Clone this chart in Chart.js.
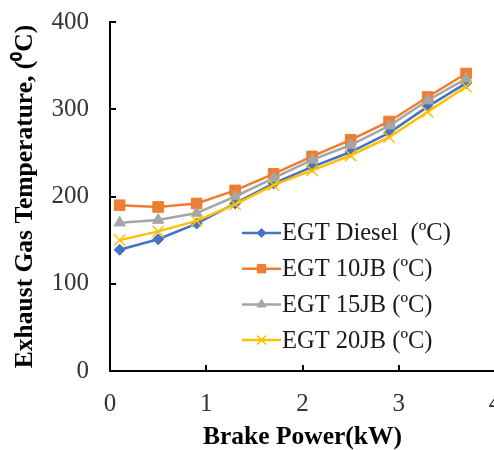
<!DOCTYPE html>
<html>
<head>
<meta charset="utf-8">
<script src="https://cdn.jsdelivr.net/npm/chart.js@4.4.0/dist/chart.umd.min.js"></script>
<style>
  html, body { margin: 0; padding: 0; overflow: hidden; background: #fff; }
  #wrap { width: 505px; height: 450px; }
</style>
</head>
<body>
<div id="wrap"><canvas id="egtChart" width="505" height="450"></canvas></div>
<script>
// brake power (kW) and exhaust gas temperature (ºC) for each fuel
const brakePower = [0.1, 0.5, 0.9, 1.3, 1.7, 2.1, 2.5, 2.9, 3.3, 3.7];
const egtDiesel = [139, 151, 169, 192, 215, 234, 251, 273, 303, 330];
const egt10JB   = [190, 188, 192, 207, 226, 246, 265, 286, 314, 341];
const egt15JB   = [170, 173, 181, 200, 221, 242, 259, 281, 310, 335];
const egt20JB   = [150, 160, 172, 191, 213, 230, 247, 268, 297, 326];

const seriesLabels = ['EGT Diesel  (\u00BAC)', 'EGT 10JB (\u00BAC)', 'EGT 15JB (\u00BAC)', 'EGT 20JB (\u00BAC)'];
const xTicks = [0, 1, 2, 3, 4];
const yTicks = [0, 100, 200, 300, 400];

const serif = "'Liberation Serif', 'Times New Roman', serif";

function toPoints(values) {
    return values.map((v, i) => ({ x: brakePower[i], y: v }));
}

function makeSet(label, values, color, style, radius, order) {
    return {
        label: label,
        data: toPoints(values),
        borderColor: color,
        backgroundColor: color,
        pointBackgroundColor: color,
        pointBorderColor: color,
        pointStyle: style,
        pointRadius: radius,
        pointBorderWidth: style === 'crossRot' ? 1.5 : 1,
        borderWidth: 2.5,
        tension: 0,
        fill: false,
        order: order
    };
}

const datasets = [
    makeSet(seriesLabels[0], egtDiesel, '#4472C4', 'rectRot', 5.5, 3),
    makeSet(seriesLabels[1], egt10JB, '#ED7D31', 'rect', 7.5, 2),
    makeSet(seriesLabels[2], egt15JB, '#A5A5A5', 'triangle', 6.5, 1),
    makeSet(seriesLabels[3], egt20JB, '#FFC000', 'crossRot', 8, 0)
];

// short tick marks pointing into the plot, like the spreadsheet axes
const innerTicks = {
    id: 'innerTicks',
    afterDraw(chart) {
        const { ctx, chartArea, scales } = chart;
        ctx.save();
        ctx.strokeStyle = '#000';
        ctx.lineWidth = 2;
        scales.y.ticks.forEach(t => {
            const py = Math.round(scales.y.getPixelForValue(t.value));
            ctx.beginPath();
            ctx.moveTo(chartArea.left, py);
            ctx.lineTo(chartArea.left + 6, py);
            ctx.stroke();
        });
        scales.x.ticks.forEach(t => {
            const px = Math.round(scales.x.getPixelForValue(t.value));
            ctx.beginPath();
            ctx.moveTo(px, chartArea.bottom);
            ctx.lineTo(px, chartArea.bottom - 6);
            ctx.stroke();
        });
        ctx.restore();
    }
};

// legend drawn inside the plot area, lower right
const insideLegend = {
    id: 'insideLegend',
    afterDraw(chart) {
        const { ctx, chartArea } = chart;
        const x0 = chartArea.left + 132;
        let y = chartArea.top + 211;
        ctx.save();
        chart.data.datasets.forEach(ds => {
            ctx.strokeStyle = ds.borderColor;
            ctx.lineWidth = 2.5;
            ctx.beginPath();
            ctx.moveTo(x0, y);
            ctx.lineTo(x0 + 39, y);
            ctx.stroke();
            ctx.fillStyle = ds.pointBackgroundColor;
            ctx.strokeStyle = ds.pointBorderColor;
            ctx.lineWidth = ds.pointBorderWidth;
            Chart.helpers.drawPoint(ctx, {
                pointStyle: ds.pointStyle,
                radius: ds.pointRadius * 0.8,
                borderWidth: ds.pointBorderWidth,
                rotation: 0
            }, x0 + 19.5, y);
            ctx.fillStyle = '#1a1a1a';
            ctx.font = '24.5px ' + serif;
            ctx.textBaseline = 'middle';
            ctx.textAlign = 'left';
            ctx.fillText(ds.label, x0 + 40, y + 1);
            y += 35.7;
        });
        ctx.restore();
    }
};

const ctx = document.getElementById('egtChart').getContext('2d');
const chart = new Chart(ctx, {
    type: 'line',
    data: { datasets: datasets },
    options: {
        responsive: false,
        animation: false,
        devicePixelRatio: 1,
        layout: { padding: { top: 22, right: 10, bottom: 0, left: 0 } },
        plugins: {
            legend: { display: false },
            tooltip: { enabled: false }
        },
        scales: {
            x: {
                type: 'linear',
                min: 0,
                max: 4,
                afterBuildTicks: scale => { scale.ticks = xTicks.map(v => ({ value: v })); },
                grid: { display: false, drawTicks: false, tickLength: 0 },
                border: { display: true, color: '#000', width: 2 },
                ticks: {
                    color: '#333',
                    padding: 18,
                    font: { family: serif, size: 25 }
                },
                title: {
                    display: true,
                    text: 'Brake Power(kW)',
                    color: '#000',
                    padding: { top: 0, bottom: 0 },
                    font: { family: serif, size: 25.5, weight: 'bold', lineHeight: 1.0 }
                },
                afterFit: scale => {
                    scale.height = 79;
                    scale.paddingLeft = 0;
                    scale.paddingRight = 0;
                }
            },
            y: {
                type: 'linear',
                min: 0,
                max: 400,
                afterBuildTicks: scale => { scale.ticks = yTicks.map(v => ({ value: v })); },
                grid: { display: false, drawTicks: false, tickLength: 0 },
                border: { display: true, color: '#000', width: 2 },
                ticks: {
                    color: '#333',
                    padding: 21,
                    font: { family: serif, size: 25 }
                },
                title: {
                    display: true,
                    text: 'Exhaust Gas Temperature, (\u2070C)',
                    color: '#000',
                    padding: { top: 10, bottom: 0 },
                    font: { family: serif, size: 25.5, weight: 'bold', lineHeight: 1.2 }
                },
                afterFit: scale => {
                    scale.width = 110;
                    scale.paddingTop = 0;
                    scale.paddingBottom = 0;
                }
            }
        }
    },
    plugins: [innerTicks, insideLegend]
});
</script>
</body>
</html>
